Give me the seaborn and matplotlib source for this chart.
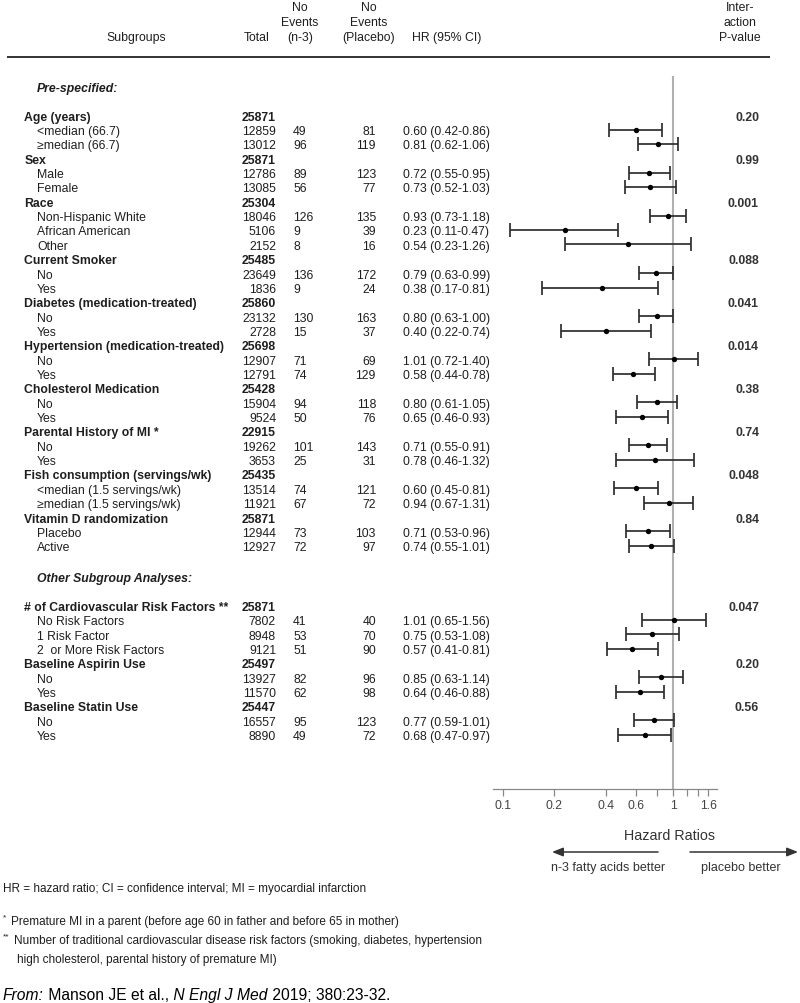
import matplotlib
matplotlib.use("Agg")
import matplotlib.pyplot as plt
from matplotlib.ticker import NullLocator
import seaborn as sns
import pandas as pd

sns.set_theme(style="white")
plt.rcParams['font.family'] = ['Liberation Sans', 'DejaVu Sans']

# ---- datos ----
sections = ["Pre-specified:", "Other Subgroup Analyses:"]
section_groups = [10, 3]

group_names = ["Age (years)", "Sex", "Race", "Current Smoker",
               "Diabetes (medication-treated)", "Hypertension (medication-treated)",
               "Cholesterol Medication", "Parental History of MI *",
               "Fish consumption (servings/wk)", "Vitamin D randomization",
               "# of Cardiovascular Risk Factors **", "Baseline Aspirin Use",
               "Baseline Statin Use"]
group_totals = [25871, 25871, 25304, 25485, 25860, 25698, 25428, 22915,
                25435, 25871, 25871, 25497, 25447]
group_pvals = ["0.20", "0.99", "0.001", "0.088", "0.041", "0.014", "0.38",
               "0.74", "0.048", "0.84", "0.047", "0.20", "0.56"]

sub_labels = [
    ["<median (66.7)", "≥median (66.7)"],
    ["Male", "Female"],
    ["Non-Hispanic White", "African American", "Other"],
    ["No", "Yes"],
    ["No", "Yes"],
    ["No", "Yes"],
    ["No", "Yes"],
    ["No", "Yes"],
    ["<median (1.5 servings/wk)", "≥median (1.5 servings/wk)"],
    ["Placebo", "Active"],
    ["No Risk Factors", "1 Risk Factor", "2  or More Risk Factors"],
    ["No", "Yes"],
    ["No", "Yes"],
]
sub_totals = [[12859, 13012], [12786, 13085], [18046, 5106, 2152], [23649, 1836],
              [23132, 2728], [12907, 12791], [15904, 9524], [19262, 3653],
              [13514, 11921], [12944, 12927], [7802, 8948, 9121], [13927, 11570],
              [16557, 8890]]
events_n3 = [[49, 96], [89, 56], [126, 9, 8], [136, 9], [130, 15], [71, 74],
             [94, 50], [101, 25], [74, 67], [73, 72], [41, 53, 51], [82, 62], [95, 49]]
events_placebo = [[81, 119], [123, 77], [135, 39, 16], [172, 24], [163, 37], [69, 129],
                  [118, 76], [143, 31], [121, 72], [103, 97], [40, 70, 90], [96, 98],
                  [123, 72]]
hr = [[0.60, 0.81], [0.72, 0.73], [0.93, 0.23, 0.54], [0.79, 0.38], [0.80, 0.40],
      [1.01, 0.58], [0.80, 0.65], [0.71, 0.78], [0.60, 0.94], [0.71, 0.74],
      [1.01, 0.75, 0.57], [0.85, 0.64], [0.77, 0.68]]
ci_low = [[0.42, 0.62], [0.55, 0.52], [0.73, 0.11, 0.23], [0.63, 0.17], [0.63, 0.22],
          [0.72, 0.44], [0.61, 0.46], [0.55, 0.46], [0.45, 0.67], [0.53, 0.55],
          [0.65, 0.53, 0.41], [0.63, 0.46], [0.59, 0.47]]
ci_high = [[0.86, 1.06], [0.95, 1.03], [1.18, 0.47, 1.26], [0.99, 0.81], [1.00, 0.74],
           [1.40, 0.78], [1.05, 0.93], [0.91, 1.32], [0.81, 1.31], [0.96, 1.01],
           [1.56, 1.08, 0.81], [1.14, 0.88], [1.01, 0.97]]

axis_ticks = [0.1, 0.2, 0.4, 0.6, 0.8, 1, 1.2, 1.4, 1.6]
axis_labels = ["0.1", "0.2", "0.4", "0.6", "", "1", "", "", "1.6"]

# ---- posiciones de filas (pixeles) ----
ROW = 14.35
y = 87.5
sec_rows, grp_rows, sub_rows = [], [], []
g = 0
for s, n in zip(sections, section_groups):
    sec_rows.append((s, y))
    y += 28.8
    for _ in range(n):
        grp_rows.append(dict(label=group_names[g], total=group_totals[g],
                             p=group_pvals[g], y=y))
        y += ROW
        for k in range(len(sub_labels[g])):
            sub_rows.append(dict(label=sub_labels[g][k], total=sub_totals[g][k],
                                 n3=events_n3[g][k], pl=events_placebo[g][k],
                                 hr=hr[g][k], lo=ci_low[g][k], hi=ci_high[g][k], y=y))
            y += ROW
        g += 1
    y += 31 - ROW
df = pd.DataFrame(sub_rows)
dg = pd.DataFrame(grp_rows)

# ---- figura ----
fig = plt.figure(figsize=(8, 10.04), dpi=100)
ov = fig.add_axes([0, 0, 1, 1])
ov.set_xlim(0, 800)
ov.set_ylim(1004, 0)
ov.axis('off')

TXT = '#1e1e1e'
FS = 8.8
BL = 4.4  # desplazamiento a la linea base

# encabezados
def head(x, yc, s):
    ov.text(x, yc + BL, s, ha='center', va='baseline', fontsize=FS, color=TXT)

head(136, 37, "Subgroups")
head(257, 37, "Total")
for yy, s in zip([7, 22, 37], ["No", "Events", "(n-3)"]):
    head(300, yy, s)
for yy, s in zip([7, 22, 37], ["No", "Events", "(Placebo)"]):
    head(369, yy, s)
head(447, 37, "HR (95% CI)")
for yy, s in zip([7, 22, 37], ["Inter-", "action", "P-value"]):
    head(740, yy, s)
ov.plot([7, 770], [58, 58], color='#333333', lw=1.4, solid_capstyle='butt')

for s, yy in sec_rows:
    ov.text(37, yy + BL, s, ha='left', va='baseline', fontsize=FS,
            fontweight='bold', fontstyle='italic', color=TXT)

for _, r in dg.iterrows():
    ov.text(24.5, r.y + BL, r.label, ha='left', va='baseline', fontsize=FS,
            fontweight='bold', color=TXT)
    ov.text(276, r.y + BL, f"{r.total}", ha='right', va='baseline', fontsize=FS,
            fontweight='bold', color=TXT)
    ov.text(759, r.y + BL, r.p, ha='right', va='baseline', fontsize=FS,
            fontweight='bold', color='#333333')

for _, r in df.iterrows():
    ov.text(37, r.y + BL, r.label, ha='left', va='baseline', fontsize=FS, color=TXT)
    ov.text(276, r.y + BL, f"{r.total}", ha='right', va='baseline', fontsize=FS, color=TXT)
    ov.text(293, r.y + BL, f"{r.n3}", ha='left', va='baseline', fontsize=FS, color=TXT)
    ov.text(376, r.y + BL, f"{r.pl}", ha='right', va='baseline', fontsize=FS, color=TXT)
    ov.text(403, r.y + BL, f"{r.hr:.2f} ({r.lo:.2f}-{r.hi:.2f})", ha='left',
            va='baseline', fontsize=FS, color=TXT)

# ---- forest plot ----
ax = fig.add_axes([493 / 800, 1 - 790 / 1004, 224 / 800, 713 / 1004])
ax.patch.set_visible(False)
ax.set_xscale('log')
ax.axvline(1, color='#b0b0b0', lw=1.5, zorder=1)
ax.errorbar(df.hr, df.y, xerr=[df.hr - df.lo, df.hi - df.hr], fmt='none',
            ecolor='#2e2e2e', elinewidth=1.25, capsize=4.8, capthick=1.25, zorder=2)
sns.scatterplot(data=df, x='hr', y='y', ax=ax, color='black', s=15,
                linewidth=0, legend=False, zorder=3)
ax.set_xlim(0.0873, 1.80)
ax.set_ylim(790, 77)
ax.set_xticks(axis_ticks)
ax.set_xticklabels(axis_labels)
ax.xaxis.set_minor_locator(NullLocator())
ax.set_yticks([])
ax.set_xlabel("")
ax.set_ylabel("")
for sp in ['top', 'left', 'right']:
    ax.spines[sp].set_visible(False)
ax.spines['bottom'].set_color('#888888')
ax.spines['bottom'].set_linewidth(0.9)
ax.tick_params(axis='x', bottom=True, direction='out', length=5, width=0.9,
               color='#888888', labelsize=FS, labelcolor='#444444', pad=2.5)

ov.text(670, 835 + 5, "Hazard Ratios", ha='center', va='baseline',
        fontsize=10.3, color='#333333')
arrow = dict(arrowstyle='-|>,head_length=0.55,head_width=0.22', color='#333333',
             lw=1.1, mutation_scale=12, shrinkA=0, shrinkB=0)
ov.annotate("", xy=(552, 853), xytext=(658, 853), arrowprops=arrow)
ov.annotate("", xy=(798, 853), xytext=(690, 853), arrowprops=arrow)
ov.text(608, 867 + 4.5, "n-3 fatty acids better", ha='center', va='baseline',
        fontsize=9, color='#333333')
ov.text(741, 867 + 4.5, "placebo better", ha='center', va='baseline',
        fontsize=9, color='#333333')

# ---- notas ----
NFS = 8.5
ov.text(3, 888 + 4, "HR = hazard ratio; CI = confidence interval; MI = myocardial infarction",
        ha='left', va='baseline', fontsize=NFS, color=TXT)
ov.text(3, 919, "*", ha='left', va='baseline', fontsize=6, color=TXT)
ov.text(11, 921 + 4, "Premature MI in a parent (before age 60 in father and before 65 in mother)",
        ha='left', va='baseline', fontsize=NFS, color=TXT)
ov.text(3, 938, "**", ha='left', va='baseline', fontsize=6, color=TXT)
ov.text(14, 940 + 4, "Number of traditional cardiovascular disease risk factors "
        "(smoking, diabetes, hypertension", ha='left', va='baseline', fontsize=NFS, color=TXT)
ov.text(17, 959 + 4, "high cholesterol, parental history of premature MI)",
        ha='left', va='baseline', fontsize=NFS, color=TXT)

renderer = fig.canvas.get_renderer()
x = 3
for s, st in [("From:", 'italic'), (" Manson JE et al.,", 'normal'),
              (" N Engl J Med", 'italic'), (" 2019; 380:23-32.", 'normal')]:
    t = ov.text(x, 995 + 5.5, s, ha='left', va='baseline', fontsize=11.25,
                fontstyle=st, color='black')
    x = t.get_window_extent(renderer).x1

fig.savefig('out.png', dpi=100)
